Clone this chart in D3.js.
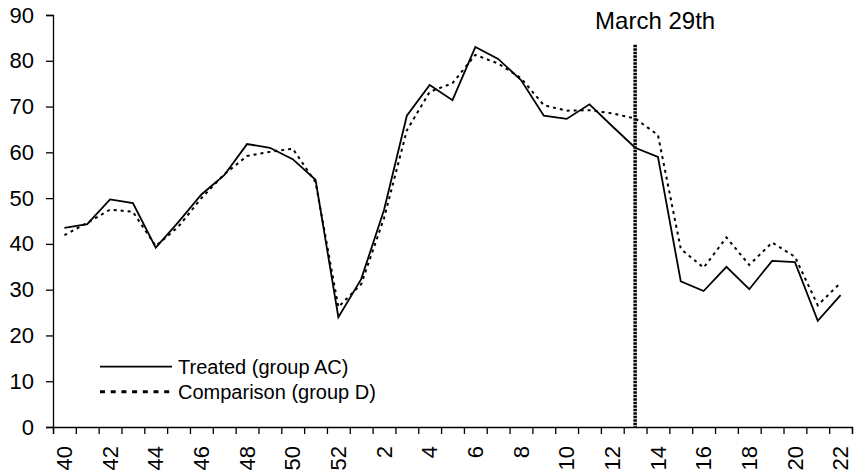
<!DOCTYPE html>
<html>
<head>
<meta charset="utf-8">
<script src="https://cdn.jsdelivr.net/npm/d3@7/dist/d3.min.js"></script>
<style>
  html, body { margin: 0; padding: 0; background: #fff; }
  svg { display: block; font-family: "Liberation Sans", Arial, sans-serif; }
</style>
</head>
<body>
<svg id="chart" width="854" height="476"></svg>
<script>
// ---- data ----
const weeks = [40,41,42,43,44,45,46,47,48,49,50,51,52,1,2,3,4,5,6,7,8,9,10,11,12,13,14,15,16,17,18,19,20,21,22];
const treated = [43.5,44.3,49.7,48.9,39.2,44.8,50.8,55.0,61.8,61.0,58.5,54.0,24.0,32.3,47.4,68.0,74.7,71.4,83.0,80.4,75.8,68.0,67.3,70.5,65.7,61.0,59.0,31.8,29.7,35.0,30.1,36.3,36.0,23.2,28.8];
const comparison = [41.9,44.6,47.5,47.0,39.5,43.8,50.0,55.2,59.2,60.1,60.8,53.5,26.2,31.2,45.6,64.8,73.2,75.1,81.3,79.4,76.2,70.3,69.1,69.2,68.5,67.4,63.8,38.9,34.8,41.4,35.4,40.3,37.2,26.6,31.5];
const yTicks = [0,10,20,30,40,50,60,70,80,90];
const xLabelWeeks = [40,42,44,46,48,50,52,2,4,6,8,10,12,14,16,18,20,22];
const seriesNames = ["Treated (group AC)", "Comparison (group D)"];
const markerWeek = 13;
const markerTop = 83.5;
const markerLabel = "March 29th";

// ---- layout ----
const svg = d3.select("#chart");
const mLeft = 53, mRight = 852, mTop = 15, mBottom = 427;

const x = d3.scaleBand().domain(weeks).range([mLeft, mRight]).padding(0);
const y = d3.scaleLinear().domain([0, 90]).range([mBottom, mTop]);
const cx = d => x(d) + x.bandwidth() / 2;

// y axis
const yAxis = svg.append("g")
  .attr("transform", `translate(${mLeft},0)`)
  .call(d3.axisLeft(y).tickValues(yTicks).tickSize(7).tickPadding(12));
yAxis.selectAll("text").attr("font-size", 22).attr("fill", "#000").attr("font-family", "Liberation Sans, Arial, sans-serif");
yAxis.selectAll("line, path").attr("stroke", "#000").attr("stroke-width", 1.3);

// x axis: boundary ticks
const xb = d3.scaleLinear().domain([0, weeks.length]).range([mLeft, mRight]);
const xTickAxis = svg.append("g")
  .attr("transform", `translate(0,${mBottom})`)
  .call(d3.axisBottom(xb).tickValues(d3.range(0, weeks.length + 1)).tickSize(7).tickFormat(""));
xTickAxis.selectAll("line, path").attr("stroke", "#000").attr("stroke-width", 1.3);

// x labels
const xLab = svg.append("g")
  .attr("transform", `translate(0,${mBottom})`)
  .call(d3.axisBottom(x).tickValues(xLabelWeeks).tickSize(0));
xLab.select(".domain").remove();
xLab.selectAll("text")
  .attr("font-size", 22).attr("fill", "#000").attr("font-family", "Liberation Sans, Arial, sans-serif")
  .attr("transform", "rotate(-90)")
  .attr("x", -19).attr("y", 0).attr("dy", "0.35em")
  .attr("text-anchor", "end");

// lines
const line = d3.line().x((d, i) => cx(weeks[i])).y(d => y(d));
svg.append("path").datum(comparison)
  .attr("d", line).attr("fill", "none").attr("stroke", "#000")
  .attr("stroke-width", 2).attr("stroke-dasharray", "3,4");
svg.append("path").datum(treated)
  .attr("d", line).attr("fill", "none").attr("stroke", "#000")
  .attr("stroke-width", 1.8).attr("stroke-linejoin", "miter");

// marker line
svg.append("line")
  .attr("x1", cx(markerWeek)).attr("x2", cx(markerWeek))
  .attr("y1", y(markerTop)).attr("y2", y(0))
  .attr("stroke", "#000").attr("stroke-width", 3.5).attr("stroke-dasharray", "2.5,1");
svg.append("text")
  .attr("x", cx(markerWeek) + 20).attr("y", 29)
  .attr("text-anchor", "middle").attr("font-size", 24).attr("fill", "#000")
  .text(markerLabel);

// legend
const legend = svg.append("g");
const legY = [366.7, 391.7];
legend.selectAll("line").data(seriesNames).join("line")
  .attr("x1", 100).attr("x2", 172)
  .attr("y1", (d, i) => legY[i]).attr("y2", (d, i) => legY[i])
  .attr("stroke", "#000")
  .attr("stroke-width", (d, i) => i === 0 ? 1.8 : 3)
  .attr("stroke-dasharray", (d, i) => i === 0 ? null : "5,5.7");
legend.selectAll("text").data(seriesNames).join("text")
  .attr("x", 178).attr("y", (d, i) => legY[i]).attr("dy", "0.35em")
  .attr("font-size", 20).attr("fill", "#000")
  .text(d => d);
</script>
</body>
</html>
